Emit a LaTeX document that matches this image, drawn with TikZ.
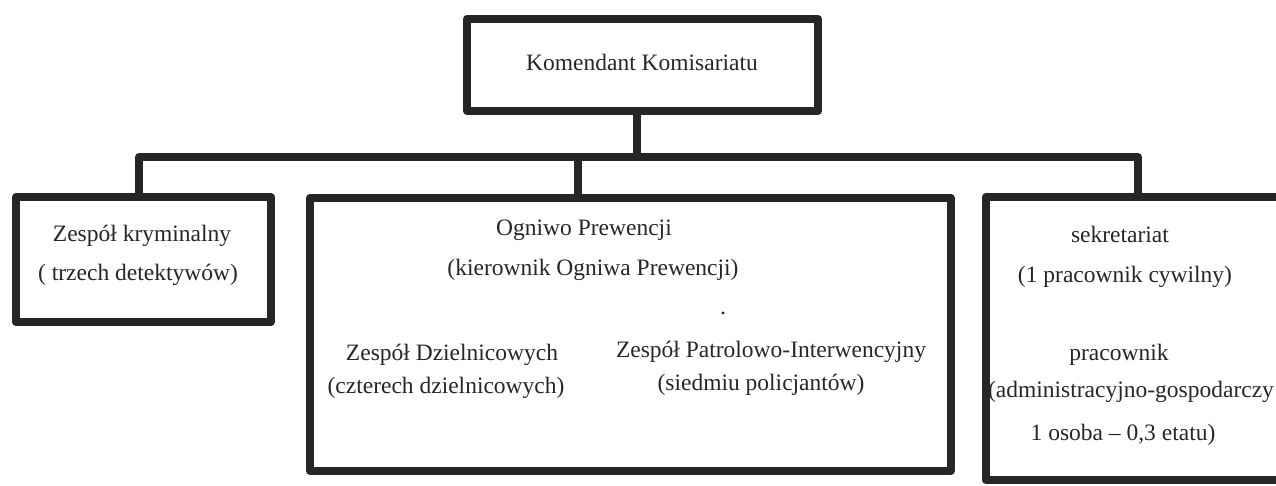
\documentclass[tikz,border=0pt]{standalone}
\usepackage{fontspec}
\setmainfont{Liberation Serif}
\begin{document}
\begin{tikzpicture}[x=1pt,y=-1pt,
  box/.style={draw=black!85, line width=8pt, inner sep=0pt, outer sep=0pt, line join=round},
  conn/.style={draw=black!85, line width=8pt, line join=round},
  lbl/.style={inner sep=0pt, anchor=base, text=black!85, font=\fontsize{23.5}{31}\selectfont}]
\useasboundingbox (0,0) rectangle (1276,486);
% boxes
\node[box, minimum width=351pt, minimum height=92pt] (top) at (642.5,65) {};
\node[box, minimum width=255pt, minimum height=125pt] (left) at (143.5,259.5) {};
\node[box, minimum width=641pt, minimum height=273pt] (ogniwo) at (630.5,334.5) {};
\node[box, minimum width=320pt, minimum height=283pt] (right) at (1146,338.5) {};
% bus
\coordinate (busL) at (139,157);
\coordinate (busR) at (1138,157);
\coordinate (jO) at (578,157);
\coordinate (jT) at (637,157);
\draw[conn] (left.north -| busL) -- (busL) -- (busR) -- (busR |- right.north);
\draw[conn] (top.south -| jT) -- (jT);
\draw[conn] (jO) -- (jO |- ogniwo.north);
% texts
\node[lbl] (tKom) at (642,71) {Komendant Komisariatu};
\node[lbl] (tKrym1) at (142,242) {Zespół kryminalny};
\node[lbl] (tKrym2) at (138,280) {( trzech detektywów)};
\node[lbl] (tOgn1) at (584,236) {Ogniwo Prewencji};
\node[lbl] (tOgn2) at (593,276) {(kierownik Ogniwa Prewencji)};
\fill[black!85] (723,313) circle (1.6pt) coordinate (dot);
\node[lbl] (tDz1) at (452,360) {Zespół Dzielnicowych};
\node[lbl] (tDz2) at (446,393) {(czterech dzielnicowych)};
\node[lbl] (tPat1) at (771,357) {Zespół Patrolowo-Interwencyjny};
\node[lbl] (tPat2) at (761,390) {(siedmiu policjantów)};
\node[lbl] (tSek1) at (1120,243) {sekretariat};
\node[lbl] (tSek2) at (1125,282) {(1 pracownik cywilny)};
\node[lbl] (tPrac1) at (1119,360) {pracownik};
\node[lbl] (tPrac2) at (1131,397) {(administracyjno-gospodarczy};
\node[lbl] (tPrac3) at (1123,440) {1 osoba – 0,3 etatu)};
\end{tikzpicture}
\end{document}
